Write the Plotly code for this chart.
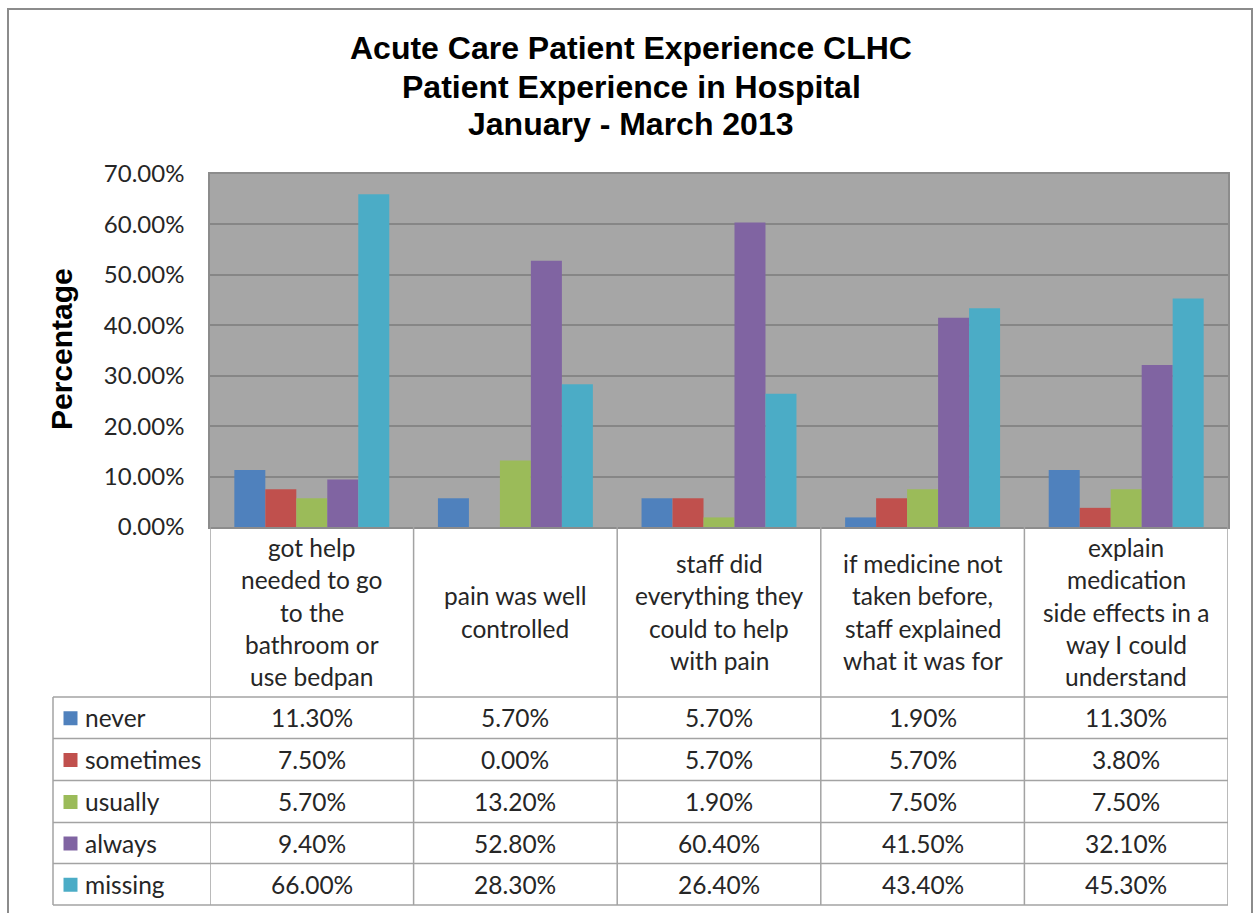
import plotly.graph_objects as go

# ---------------- data ----------------
categories = [
    "got help<br>needed to go<br>to the<br>bathroom or<br>use bedpan",
    "pain was well<br>controlled",
    "staff did<br>everything they<br>could to help<br>with pain",
    "if medicine not<br>taken before,<br>staff explained<br>what it was for",
    "explain<br>medication<br>side effects in a<br>way I could<br>understand",
]
series_names = ["never", "sometimes", "usually", "always", "missing"]
never = [11.3, 5.7, 5.7, 1.9, 11.3]
sometimes = [7.5, 0.0, 5.7, 5.7, 3.8]
usually = [5.7, 13.2, 1.9, 7.5, 7.5]
always = [9.4, 52.8, 60.4, 41.5, 32.1]
missing = [66.0, 28.3, 26.4, 43.4, 45.3]
series_values = [never, sometimes, usually, always, missing]
colors = ["#4F81BD", "#C0504D", "#9BBB59", "#8064A2", "#4BACC6"]
y_ticks = [0, 10, 20, 30, 40, 50, 60, 70]
title_lines = ["Acute Care Patient Experience CLHC", "Patient Experience in Hospital", "January - March 2013"]
y_title = "Percentage"

# ---------------- layout helpers (pixel geometry) ----------------
W, H = 1257, 913
L, R, T, B = 210, 1228, 174, 527


def px(x):
    return (x - L) / (R - L)


def py(y):
    return (B - y) / (B - T)


TEXT_FONT = dict(family="Lato", size=24.5, color="#262626")
TICK_FONT = dict(family="Lato", size=24, color="#262626")
TITLE_FONT = dict(family="Liberation Sans", size=32, color="#000000")
LINE_COL = "#A3A3A3"
row_edges = [697, 738.5, 780.5, 822.5, 863.5, 905]
header_center = (B + row_edges[0]) / 2
header_line_h = 32.3
title_centers = [48, 87, 124]

fig = go.Figure()
for name, vals, col in zip(series_names, series_values, colors):
    fig.add_trace(go.Bar(x=categories, y=vals, name=name, marker=dict(color=col, line=dict(width=0)),
                         hovertemplate="%{y:.2f}%<extra>" + name + "</extra>"))

shapes = []
annotations = []

# table vertical lines
for i in range(len(categories) + 1):
    shapes.append(dict(type="line", xref="x", yref="paper", x0=i - 0.5, x1=i - 0.5,
                       y0=py(B), y1=py(row_edges[-1]), line=dict(color=LINE_COL, width=1.5)))
shapes.append(dict(type="line", xref="paper", yref="paper", x0=px(53), x1=px(53),
                   y0=py(row_edges[0]), y1=py(row_edges[-1]), line=dict(color=LINE_COL, width=1.5)))
# table horizontal lines
for ye in row_edges:
    shapes.append(dict(type="line", xref="paper", yref="paper", x0=px(53), x1=1,
                       y0=py(ye), y1=py(ye), line=dict(color=LINE_COL, width=1.5)))
# outer chart border
shapes.append(dict(type="rect", xref="paper", yref="paper", x0=px(8), x1=px(1252), y0=py(925), y1=py(9),
                   line=dict(color="#8C8C8C", width=2), fillcolor="rgba(0,0,0,0)", layer="below"))

# title lines
for t, yc in zip(title_lines, title_centers):
    annotations.append(dict(text="<b>" + t + "</b>", xref="paper", yref="paper", x=px(631), y=py(yc),
                            showarrow=False, xanchor="center", yanchor="middle", font=TITLE_FONT))

# header texts (category labels)
for i, cat in enumerate(categories):
    lines = cat.split("<br>")
    n = len(lines)
    for k, ln in enumerate(lines):
        yc = header_center + (k - (n - 1) / 2) * header_line_h
        annotations.append(dict(text=ln, xref="x", yref="paper", x=i, y=py(yc), showarrow=False,
                                xanchor="center", yanchor="middle", font=TEXT_FONT))

# rows: legend key + name + values
for r, (name, vals, col) in enumerate(zip(series_names, series_values, colors)):
    yc = (row_edges[r] + row_edges[r + 1]) / 2
    shapes.append(dict(type="rect", xref="paper", yref="paper", x0=px(63.5), x1=px(77.5),
                       y0=py(yc + 7.5), y1=py(yc - 6.5), fillcolor=col, line=dict(width=0)))
    annotations.append(dict(text=name, xref="paper", yref="paper", x=px(83), y=py(yc), showarrow=False,
                            xanchor="left", yanchor="middle", font=TEXT_FONT))
    for i, v in enumerate(vals):
        annotations.append(dict(text=f"{v:.2f}%", xref="x", yref="paper", x=i, y=py(yc), showarrow=False,
                                xanchor="center", yanchor="middle", font=TEXT_FONT))

# y-axis title
annotations.append(dict(text="<b>" + y_title + "</b>", xref="paper", yref="paper", x=px(61), y=py(349),
                        showarrow=False, textangle=-90, xanchor="center", yanchor="middle",
                        font=dict(family="Liberation Sans", size=30, color="#000000")))

fig.update_layout(
    width=W, height=H,
    margin=dict(l=L, r=W - R, t=T, b=H - B, pad=0),
    paper_bgcolor="#FFFFFF",
    plot_bgcolor="#A6A6A6",
    barmode="group",
    bargap=0.239,
    bargroupgap=0,
    showlegend=False,
    xaxis=dict(showticklabels=False, ticks="", range=[-0.5, len(categories) - 0.5],
               showline=True, linecolor="#8C8C8C", linewidth=1.5, mirror=True, showgrid=False, zeroline=False),
    yaxis=dict(range=[0, 70], tickvals=y_ticks, ticktext=[f"{v:.2f}%" for v in y_ticks],
               tickfont=TICK_FONT, ticks="", ticklabelstandoff=19,
               showgrid=True, gridcolor="#868686", gridwidth=1.5, zeroline=False,
               showline=True, linecolor="#8C8C8C", linewidth=1.5, mirror=True),
    shapes=shapes,
    annotations=annotations,
)

fig.write_html("out.html", config={"displayModeBar": False},
               post_script="document.body.style.margin='0';document.body.style.overflow='hidden';")
